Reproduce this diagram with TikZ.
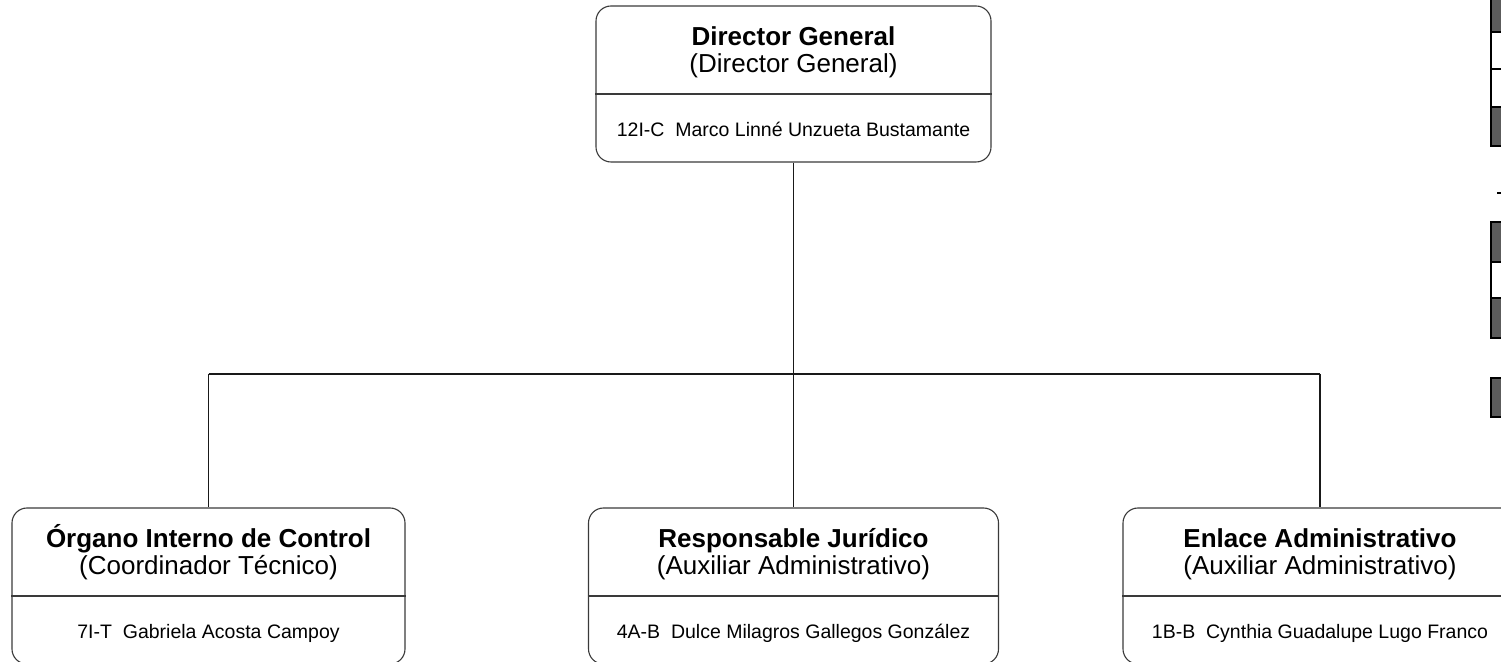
\documentclass[tikz,border=0pt]{standalone}
\usepackage{fontspec}
\setmainfont{Liberation Sans}
\usetikzlibrary{positioning}
\definecolor{edge}{HTML}{3A3A3A}
\definecolor{tabgray}{HTML}{5C5C5C}

\tikzset{
  card/.style={draw=edge, line width=0.55pt, rounded corners=7.5pt, minimum height=78pt, inner sep=0pt},
  title/.style={anchor=base, inner sep=0pt, font=\fontsize{13}{13}\selectfont\bfseries},
  role/.style={anchor=base, inner sep=0pt, font=\fontsize{13}{13}\selectfont},
  who/.style={anchor=base, inner sep=0pt, font=\fontsize{9.75}{10}\selectfont},
  link/.style={draw=black!90, line width=0.9pt},
  tab/.style={draw=black, line width=1pt, fill=tabgray}
}

\begin{document}
\begin{tikzpicture}[x=0.5pt, y=-0.5pt]
    \useasboundingbox (0,0) rectangle (1501,662);

    % Top box
    \node[card, minimum width=197.5pt] (dir) at (793.5,84) {};
    \draw[edge, line width=0.55pt] (dir.west |- 0,94) -- (dir.east |- 0,94);
    \node[title] (dirT) at (793.5,45.7) {Director General};
    \node[role] (dirR) at (793.5,72.2) {(Director General)};
    \node[who] (dirN) at (793.5,136.7) {12I-C~~Marco Linné Unzueta Bustamante};

    % Bottom boxes
    \foreach \n/\cx/\w/\ttl/\rl/\nm in {
        oic/208.5/196.5/Órgano Interno de Control/(Coordinador Técnico)/7I-T~~Gabriela Acosta Campoy,
        jur/793.5/205/Responsable Jurídico/(Auxiliar Administrativo)/4A-B~~Dulce Milagros Gallegos González,
        enl/1320/197/Enlace Administrativo/(Auxiliar Administrativo)/1B-B~~Cynthia Guadalupe Lugo Franco}{
        \node[card, minimum width=\w pt] (\n) at (\cx,586) {};
        \draw[edge, line width=0.55pt] (\n.west |- 0,596) -- (\n.east |- 0,596);
        \node[title] (\n T) at (\cx,547.7) {\ttl};
        \node[role] (\n R) at (\cx,574.2) {\rl};
        \node[who] (\n N) at (\cx,638.7) {\nm};
    }

    % Connectors
    \coordinate (bus) at (0,374);
    \draw[link] (dir.south) -- (dir.south |- bus);
    \draw[link] (oic.north |- bus) -- (enl.north |- bus);
    \draw[link] (oic.north |- bus) -- (oic.north);
    \draw[link] (jur.north |- bus) -- (jur.north);
    \draw[link] (enl.north |- bus) -- (enl.north);

    % Cut-off tabs at the right edge
    \draw[tab] (1491,-10) rectangle (1520,32);
    \draw[tab, fill=white] (1491,32) rectangle (1520,69);
    \draw[tab, fill=white] (1491,69) rectangle (1520,107);
    \draw[tab] (1491,107) rectangle (1520,146);
    \draw[black, line width=1pt] (1497,193) -- (1505,193);
    \draw[tab] (1491,222) rectangle (1520,262);
    \draw[tab, fill=white] (1491,262) rectangle (1520,298);
    \draw[tab] (1491,298) rectangle (1520,338);
    \draw[tab] (1491,378) rectangle (1520,417);
\end{tikzpicture}
\end{document}
